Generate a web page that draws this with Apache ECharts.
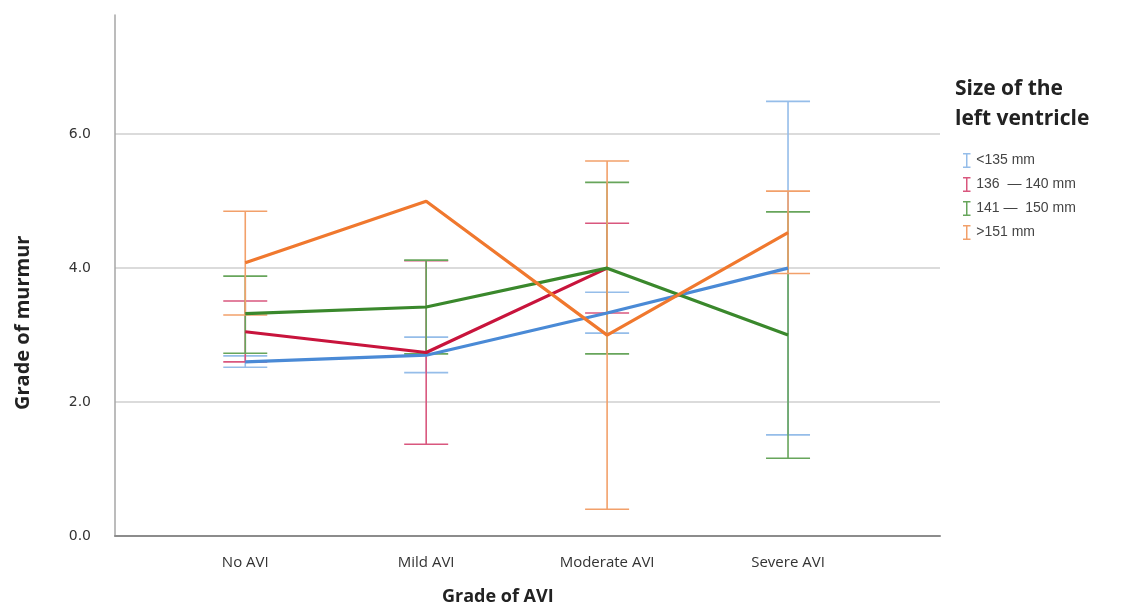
<!DOCTYPE html>
<html>
<head>
<meta charset="utf-8">
<script src="https://cdn.jsdelivr.net/npm/echarts@6/dist/echarts.min.js"></script>
<style>
    html, body { margin: 0; padding: 0; background: #fff; }
    #chart { width: 1131px; height: 610px; }
</style>
</head>
<body>
<div id="chart"></div>
<script>
    // categories on the x axis
    const categories = ['No AVI', 'Mild AVI', 'Moderate AVI', 'Severe AVI']
    // left ventricle size groups
    const groups = ['<135 mm', '136  \u2014 140 mm', '141 \u2014  150 mm', '>151 mm']

    // means and error bar ends
    const meanSmall = [2.60, 2.70, 3.33, 4.00]
    const lowSmall  = [2.52, 2.44, 3.03, 1.51]
    const highSmall = [2.69, 2.97, 3.64, 6.49]

    const meanMid = [3.05, 2.74, 4.00, null]
    const lowMid  = [2.60, 1.37, 3.33, null]
    const highMid = [3.51, 4.11, 4.67, null]

    const meanLarge = [3.32, 3.42, 4.00, 3.00]
    const lowLarge  = [2.73, 2.72, 2.72, 1.16]
    const highLarge = [3.88, 4.12, 5.28, 4.84]

    const meanXL = [4.08, 5.00, 3.00, 4.53]
    const lowXL  = [3.30, null, 0.40, 3.92]
    const highXL = [4.85, null, 5.60, 5.15]

    const yTicks = [0, 2, 4, 6]

    const lineColors = ['#4a8ad6', '#c8143c', '#3a882c', '#f0782e']
    const barColors  = ['#95bde9', '#d9577e', '#67a55b', '#f2a06a']

    const means = [meanSmall, meanMid, meanLarge, meanXL]
    const lows  = [lowSmall, lowMid, lowLarge, lowXL]
    const highs = [highSmall, highMid, highLarge, highXL]

    let chartInstance = echarts.init(document.getElementById('chart'))

    // error bar: vertical stem plus two caps
    function renderErrorBar(params, api) {
        const x = api.value(0)
        const top = api.coord([x, api.value(2)])
        const bot = api.coord([x, api.value(1)])
        const hw = 22
        const style = { stroke: api.visual('color'), lineWidth: 1.6 }
        return {
            type: 'group',
            children: [
                { type: 'line', shape: { x1: top[0], y1: top[1], x2: bot[0], y2: bot[1] }, style },
                { type: 'line', shape: { x1: top[0] - hw, y1: top[1], x2: top[0] + hw, y2: top[1] }, style },
                { type: 'line', shape: { x1: bot[0] - hw, y1: bot[1], x2: bot[0] + hw, y2: bot[1] }, style }
            ]
        }
    }

    const barSeries = groups.map((name, i) => {
        const data = []
        categories.forEach((c, j) => {
            if (lows[i][j] != null) data.push([j, lows[i][j], highs[i][j]])
        })
        return {
            type: 'custom',
            name: name,
            renderItem: renderErrorBar,
            itemStyle: { color: barColors[i] },
            encode: { x: 0, y: [1, 2] },
            data: data,
            z: 2
        }
    })

    const lineSeries = groups.map((name, i) => {
        return {
            type: 'line',
            name: name,
            data: means[i].map((v, j) => [j, v]),
            showSymbol: false,
            connectNulls: false,
            lineStyle: { width: 3.2, color: lineColors[i] },
            itemStyle: { color: lineColors[i] },
            z: 3
        }
    })

    const option = {
        animation: false,
        grid: { left: 115, right: 191, top: 15, bottom: 74 },
        xAxis: {
            type: 'value',
            min: -0.72,
            max: 3.84,
            splitLine: { show: false },
            axisLine: { show: true, onZero: false, lineStyle: { color: '#8c8c8c', width: 2 } },
            axisTick: { show: false },
            axisLabel: {
                customValues: [0, 1, 2, 3],
                formatter: (v) => categories[v],
                color: '#333',
                fontSize: 15,
                fontFamily: 'Open Sans',
                margin: 19
            }
        },
        yAxis: {
            type: 'value',
            min: 0,
            max: 7.78,
            axisLine: { show: true, onZero: false, lineStyle: { color: '#a6a6a6', width: 1.5 } },
            axisTick: { show: false },
            splitLine: { show: true, showMinLine: false, showMaxLine: false, lineStyle: { color: '#cfcfcf', width: 1.5 } },
            axisLabel: {
                customValues: yTicks,
                formatter: (v) => v.toFixed(1),
                color: '#333',
                fontSize: 14,
                fontFamily: 'DejaVu Sans',
                margin: 24
            }
        },
        legend: {
            orient: 'vertical',
            left: 958,
            top: 148,
            itemWidth: 9,
            itemHeight: 15,
            itemGap: 9,
            data: groups.map((name) => ({
                name: name,
                icon: 'path://M0,0H10V2H6V18H10V20H0V18H4V2H0Z'
            })),
            textStyle: { color: '#444', fontSize: 14, fontFamily: 'Liberation Sans' }
        },
        graphic: [
            {
                type: 'text',
                left: 955,
                top: 74,
                style: {
                    text: 'Size of the\nleft ventricle',
                    font: 'bold 21px "Open Sans"',
                    fill: '#222',
                    lineHeight: 30
                }
            },
            {
                type: 'text',
                x: 13,
                y: 410,
                rotation: Math.PI / 2,
                style: {
                    text: 'Grade of murmur',
                    font: 'bold 20px "Open Sans"',
                    fill: '#222'
                }
            },
            {
                type: 'text',
                left: 442,
                top: 588,
                style: {
                    text: 'Grade of AVI',
                    font: 'bold 18px "Open Sans"',
                    fill: '#222'
                }
            }
        ],
        series: [...barSeries, ...lineSeries]
    }

    chartInstance.setOption(option)
</script>
</body>
</html>
